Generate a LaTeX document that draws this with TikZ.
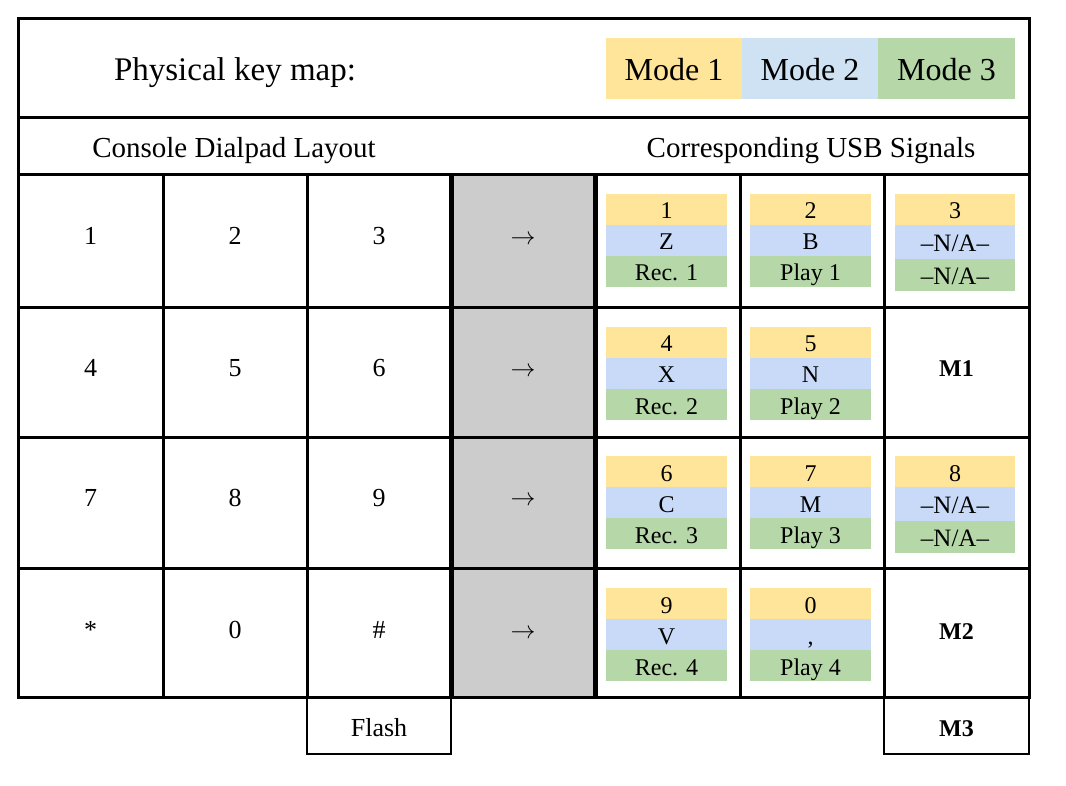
\documentclass[tikz,border=0pt]{standalone}
\usepackage{fontspec}
\setmainfont{Liberation Serif}
\definecolor{cy}{HTML}{FFE599}
\definecolor{ch}{HTML}{CFE2F3}
\definecolor{cb}{HTML}{C9DAF8}
\definecolor{cg}{HTML}{B6D7A8}
\definecolor{cgrey}{HTML}{CCCCCC}
\newcommand\fsz[1]{\fontsize{#1}{#1}\selectfont}
\tikzset{
  gridline/.style={draw=black, line width=3pt},
  thickline/.style={draw=black, line width=5pt},
  thinline/.style={draw=black, line width=2.2pt},
  band/.style={minimum width=121pt, minimum height=31pt, inner sep=0pt, outer sep=0pt,
    text height=22pt, text depth=3pt, font=\fsz{24}},
  modebox/.style={minimum width=136pt, minimum height=61pt, inner sep=0pt,
    text height=28pt, text depth=3pt, font=\fsz{32}},
  keylab/.style={anchor=base, inner sep=0pt, font=\fsz{26}},
  boldlab/.style={anchor=base, inner sep=0pt, font=\fsz{24}\bfseries},
  arrowlab/.style={inner sep=0pt, font=\fsz{25}},
  headlab/.style={anchor=base, inner sep=0pt, font=\fsz{29}},
}
\newcommand\kstack[6]{%
  \node[band, fill=cy] (#1a) at (#2,#3+15.5) {#4};
  \node[band, fill=cb] (#1b) at (#2,#3+46.5) {#5};
  \node[band, fill=cg] (#1c) at (#2,#3+77.5) {#6};
}
\newcommand\kstackna[4]{%
  \node[band, fill=cy, minimum width=120pt] (#1a) at (#2,#3+15.5) {#4};
  \node[band, fill=cb, minimum width=120pt, minimum height=34pt, font=\fsz{25}] (#1b) at (#2,#3+48) {--N/A--};
  \node[band, fill=cg, minimum width=120pt, minimum height=32pt, font=\fsz{25}] (#1c) at (#2,#3+81) {--N/A--};
}
\begin{document}
\begin{tikzpicture}[x=1pt,y=-1pt]
\useasboundingbox (0,0) rectangle (1066,786);
% grey column
\fill[cgrey] (451,175) rectangle (595,697);
% grid
\draw[gridline] (18,19) rectangle (1029,697);
\draw[gridline] (18,118) -- (1029,118);
\draw[gridline] (18,175) -- (1029,175);
\foreach \yy in {308,437,568} \draw[gridline] (18,\yy) -- (1029,\yy);
\foreach \xx in {163,307,740,884} \draw[gridline] (\xx,175) -- (\xx,697);
\draw[thickline] (451,175) -- (451,697);
\draw[thickline] (595,175) -- (595,697);
\draw[thinline] (307,697) rectangle (451,754);
\draw[thinline] (884,697) rectangle (1029,754);
% title row
\node[anchor=base, inner sep=0pt, font=\fsz{33}] (title) at (235,81) {Physical key map:};
\node[modebox, fill=cy] (m1) at (674,68.5) {Mode 1};
\node[modebox, fill=ch] (m2) at (810,68.5) {Mode 2};
\node[modebox, fill=cg, minimum width=137pt] (m3) at (946.5,68.5) {Mode 3};
% header row
\node[headlab] (hleft) at (234,158) {Console Dialpad Layout};
\node[headlab] (hright) at (811,158) {Corresponding USB Signals};
% dialpad keys
\node[keylab] (k1) at (90.5,245) {1};
\node[keylab] (k2) at (235,245) {2};
\node[keylab] (k3) at (379,245) {3};
\node[keylab] (k4) at (90.5,377) {4};
\node[keylab] (k5) at (235,377) {5};
\node[keylab] (k6) at (379,377) {6};
\node[keylab] (k7) at (90.5,506) {7};
\node[keylab] (k8) at (235,506) {8};
\node[keylab] (k9) at (379,506) {9};
\node[keylab] (kstar) at (90.5,638) {*};
\node[keylab] (k0) at (235,638) {0};
\node[keylab] (khash) at (379,638) {\#};
\node[keylab] (kflash) at (379,736) {Flash};
% arrows
\node[arrowlab] (a1) at (523,240) {$\rightarrow$};
\node[arrowlab] (a2) at (523,372) {$\rightarrow$};
\node[arrowlab] (a3) at (523,501) {$\rightarrow$};
\node[arrowlab] (a4) at (523,634) {$\rightarrow$};
% USB signal stacks
\kstack{s1}{666.5}{194}{1}{Z}{Rec. 1}
\kstack{s2}{810.5}{194}{2}{B}{Play 1}
\kstackna{s3}{955}{194}{3}
\kstack{s4}{666.5}{327}{4}{X}{Rec. 2}
\kstack{s5}{810.5}{327}{5}{N}{Play 2}
\node[boldlab] (sm1) at (956.5,377) {M1};
\kstack{s6}{666.5}{456}{6}{C}{Rec. 3}
\kstack{s7}{810.5}{456}{7}{M}{Play 3}
\kstackna{s8}{955}{456}{8}
\kstack{s9}{666.5}{588}{9}{V}{Rec. 4}
\kstack{s0}{810.5}{588}{0}{,}{Play 4}
\node[boldlab] (sm2) at (956.5,639) {M2};
\node[boldlab] (sm3) at (956.5,736) {M3};
\end{tikzpicture}
\end{document}
